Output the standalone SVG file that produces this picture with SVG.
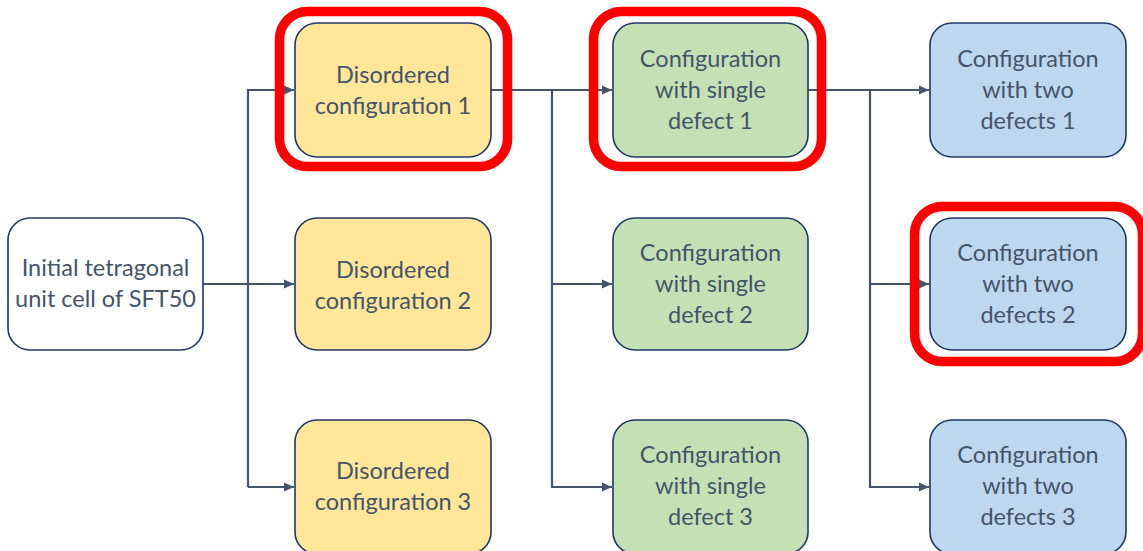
<svg xmlns="http://www.w3.org/2000/svg" width="1143" height="551" viewBox="0 0 1143 551">
<style>
.box{stroke:#1F3864;stroke-width:1.6}
.w{fill:#FFFFFF}.y{fill:#FFE699}.g{fill:#C5E0B4}.b{fill:#BDD7EE}
.hl{fill:none;stroke:#FF0000;stroke-width:9.5}
text{font-family:Lato,"Open Sans",sans-serif;font-size:23.5px;fill:#44546A;text-anchor:middle}
.c{fill:none;stroke:#44546A;stroke-width:2.2}
</style>
<defs>
<marker id="ah" markerWidth="12" markerHeight="12" refX="10" refY="6" orient="auto" markerUnits="userSpaceOnUse">
<path d="M0,1.5 L10,6 L0,10.5 Z" fill="#44546A"/>
</marker>
</defs>
<g id="connectors">
<path class="c" d="M203,284 H294" marker-end="url(#ah)"/>
<path class="c" d="M248,487 V90 H294" marker-end="url(#ah)"/>
<path class="c" d="M248,487 H294" marker-end="url(#ah)"/>
<path class="c" d="M491,90 H612" marker-end="url(#ah)"/>
<path class="c" d="M552,90 V487 H612" marker-end="url(#ah)"/>
<path class="c" d="M552,284 H612" marker-end="url(#ah)"/>
<path class="c" d="M808,90 H929" marker-end="url(#ah)"/>
<path class="c" d="M870,90 V487 H929" marker-end="url(#ah)"/>
<path class="c" d="M870,284 H929" marker-end="url(#ah)"/>
</g>
<g id="n0"><rect class="box w" x="8" y="218" width="195" height="132" rx="22"/>
<text x="105.5" y="276">Initial tetragonal</text><text x="105.5" y="307">unit cell of SFT50</text></g>
<g id="y1"><rect class="box y" x="295" y="23" width="196" height="134" rx="22"/>
<text x="393" y="83">Disordered</text><text x="393" y="114">configuration 1</text></g>
<g id="y2"><rect class="box y" x="295" y="218" width="196" height="132" rx="22"/>
<text x="393" y="278">Disordered</text><text x="393" y="309">configuration 2</text></g>
<g id="y3"><rect class="box y" x="295" y="420" width="196" height="134" rx="22"/>
<text x="393" y="479">Disordered</text><text x="393" y="510">configuration 3</text></g>
<g id="g1"><rect class="box g" x="613" y="23" width="195" height="134" rx="22"/>
<text x="710.5" y="67">Configuration</text><text x="710.5" y="98">with single</text><text x="710.5" y="129">defect 1</text></g>
<g id="g2"><rect class="box g" x="613" y="218" width="195" height="132" rx="22"/>
<text x="710.5" y="261">Configuration</text><text x="710.5" y="292">with single</text><text x="710.5" y="323">defect 2</text></g>
<g id="g3"><rect class="box g" x="613" y="420" width="195" height="134" rx="22"/>
<text x="710.5" y="463">Configuration</text><text x="710.5" y="494">with single</text><text x="710.5" y="525">defect 3</text></g>
<g id="b1"><rect class="box b" x="930" y="23" width="196" height="134" rx="22"/>
<text x="1028" y="67">Configuration</text><text x="1028" y="98">with two</text><text x="1028" y="129">defects 1</text></g>
<g id="b2"><rect class="box b" x="930" y="218" width="196" height="132" rx="22"/>
<text x="1028" y="261">Configuration</text><text x="1028" y="292">with two</text><text x="1028" y="323">defects 2</text></g>
<g id="b3"><rect class="box b" x="930" y="420" width="196" height="134" rx="22"/>
<text x="1028" y="463">Configuration</text><text x="1028" y="494">with two</text><text x="1028" y="525">defects 3</text></g>
<g id="highlights">
<rect class="hl" x="279.5" y="11.5" width="228" height="155" rx="28"/>
<rect class="hl" x="593.5" y="11.5" width="228" height="155" rx="28"/>
<rect class="hl" x="914.5" y="206.5" width="228" height="155" rx="28"/>
</g>
</svg>
